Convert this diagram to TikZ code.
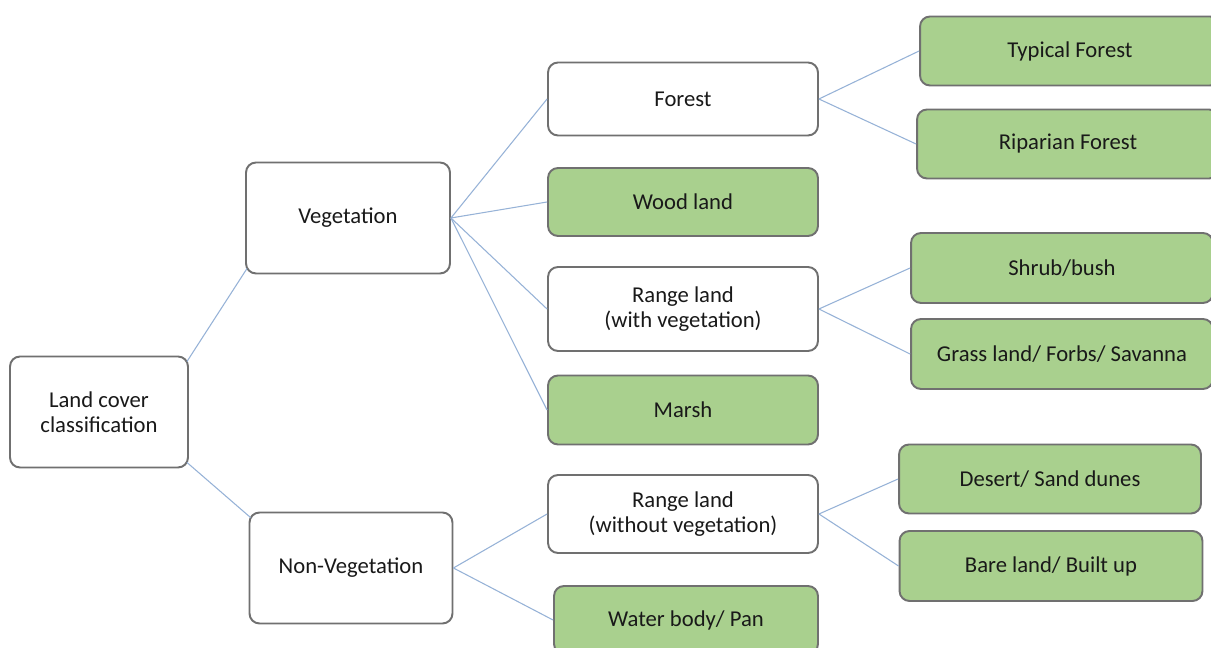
\documentclass[tikz,border=0pt]{standalone}
\usepackage{fontspec}
\setmainfont{Carlito}
\definecolor{hojaverde}{RGB}{169,208,142}
\definecolor{bordegris}{RGB}{112,112,112}
\definecolor{lineaazul}{RGB}{150,178,215}
\tikzset{
  caja/.style={draw=bordegris, line width=1.1pt, rounded corners=0.2cm, fill=white,
    align=center, inner sep=0pt, font=\fontsize{12.9}{14.5}\selectfont, text=black!90},
  cajaverde/.style={caja, fill=hojaverde},
  rama/.style={draw=lineaazul, line width=0.6pt}
}
\begin{document}
\begin{tikzpicture}[x=0.02cm, y=-0.02cm]
  %marco
  \clip (0,0) rectangle (1211,648);
  \fill[white] (0,0) rectangle (1211,648);
  %%%% nivel 1 y 2
  \node[caja, minimum width=3.56cm, minimum height=2.22cm] (raiz) at (99,412) {Land cover\\classification};
  \node[caja, minimum width=4.08cm, minimum height=2.22cm] (veget) at (348,218) {Vegetation};
  \node[caja, minimum width=4.06cm, minimum height=2.22cm] (noveget) at (351,568) {Non-Vegetation};
  %%%% nivel 3
  \node[caja, minimum width=5.4cm, minimum height=1.46cm] (bosque) at (683,99) {Forest};
  \node[cajaverde, minimum width=5.4cm, minimum height=1.36cm] (madera) at (683,202) {Wood land};
  \node[caja, minimum width=5.4cm, minimum height=1.68cm] (pastocon) at (683,309) {Range land\\(with vegetation)};
  \node[cajaverde, minimum width=5.4cm, minimum height=1.38cm] (pantano) at (683,410) {Marsh};
  \node[caja, minimum width=5.4cm, minimum height=1.56cm] (pastosin) at (683,514) {Range land\\(without vegetation)};
  \node[cajaverde, minimum width=5.28cm, minimum height=1.36cm] (agua) at (686,620) {Water body/ Pan};
  %%%% nivel 4
  \node[cajaverde, minimum width=6.0cm, minimum height=1.38cm] (tipico) at (1070,51) {Typical Forest};
  \node[cajaverde, minimum width=6.04cm, minimum height=1.38cm] (ribera) at (1068,144) {Riparian Forest};
  \node[cajaverde, minimum width=6.04cm, minimum height=1.4cm] (arbusto) at (1062,268) {Shrub/bush};
  \node[cajaverde, minimum width=6.04cm, minimum height=1.4cm] (pasto) at (1062,354) {Grass land/ Forbs/ Savanna};
  \node[cajaverde, minimum width=6.04cm, minimum height=1.38cm] (desierto) at (1050,479) {Desert/ Sand dunes};
  \node[cajaverde, minimum width=6.06cm, minimum height=1.4cm] (desnudo) at (1051,566) {Bare land/ Built up};
  %%%% ramas
  \draw[rama] ([shift={(-2,6)}]raiz.north east) -- ([shift={(2,-6)}]veget.south west);
  \draw[rama] ([shift={(-2,-6)}]raiz.south east) -- ([shift={(2,6)}]noveget.north west);
  \draw[rama] (veget.east) -- (bosque.west);
  \draw[rama] (veget.east) -- (madera.west);
  \draw[rama] (veget.east) -- (pastocon.west);
  \draw[rama] (veget.east) -- (pantano.west);
  \draw[rama] (noveget.east) -- (pastosin.west);
  \draw[rama] (noveget.east) -- (agua.west);
  \draw[rama] (bosque.east) -- (tipico.west);
  \draw[rama] (bosque.east) -- (ribera.west);
  \draw[rama] (pastocon.east) -- (arbusto.west);
  \draw[rama] (pastocon.east) -- (pasto.west);
  \draw[rama] (pastosin.east) -- (desierto.west);
  \draw[rama] (pastosin.east) -- (desnudo.west);
\end{tikzpicture}
\end{document}
